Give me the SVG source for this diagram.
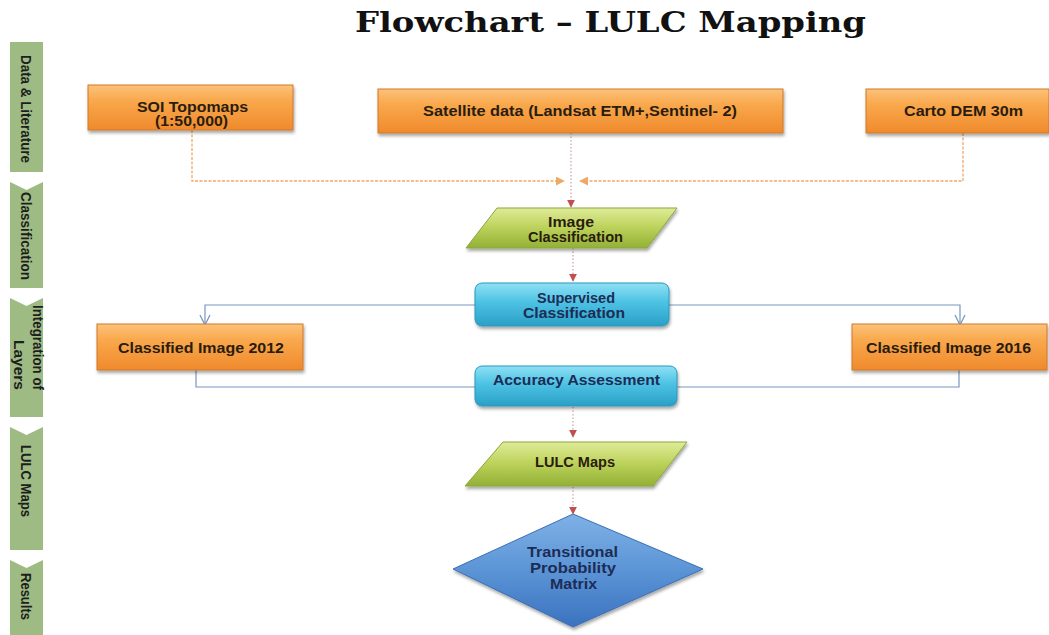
<svg xmlns="http://www.w3.org/2000/svg" width="1049" height="635" viewBox="0 0 1049 635">
  <defs>
    <linearGradient id="gOrange" x1="0" y1="0" x2="0" y2="1">
      <stop offset="0" stop-color="#fcc27a"/>
      <stop offset="0.35" stop-color="#f9a84c"/>
      <stop offset="1" stop-color="#ef8a2c"/>
    </linearGradient>
    <linearGradient id="gGreen" x1="0" y1="0" x2="0" y2="1">
      <stop offset="0" stop-color="#dfeb9a"/>
      <stop offset="0.45" stop-color="#bfd45e"/>
      <stop offset="1" stop-color="#93b035"/>
    </linearGradient>
    <linearGradient id="gCyan" x1="0" y1="0" x2="0" y2="1">
      <stop offset="0" stop-color="#8fe0f4"/>
      <stop offset="0.45" stop-color="#4cc2e4"/>
      <stop offset="1" stop-color="#2a9fc6"/>
    </linearGradient>
    <linearGradient id="gBlue" x1="0" y1="0" x2="0" y2="1">
      <stop offset="0" stop-color="#7fb1e6"/>
      <stop offset="0.5" stop-color="#5b94d6"/>
      <stop offset="1" stop-color="#3a72bf"/>
    </linearGradient>
    <filter id="shadow" x="-10%" y="-20%" width="120%" height="150%">
      <feDropShadow dx="1" dy="2.5" stdDeviation="1.8" flood-color="#000" flood-opacity="0.35"/>
    </filter>
    <marker id="mOrange" viewBox="0 0 10 10" refX="9" refY="5" markerWidth="9" markerHeight="9" markerUnits="userSpaceOnUse" orient="auto">
      <path d="M0,0 L10,5 L0,10 Z" fill="#f0a868"/>
    </marker>
    <marker id="mRed" viewBox="0 0 10 10" refX="9" refY="5" markerWidth="8" markerHeight="8" markerUnits="userSpaceOnUse" orient="auto">
      <path d="M0,0 L10,5 L0,10 Z" fill="#c0504d"/>
    </marker>
    <marker id="mOpen" viewBox="0 0 12 12" refX="11" refY="6" markerWidth="12" markerHeight="12" markerUnits="userSpaceOnUse" orient="auto">
      <path d="M1,1 L11,6 L1,11" fill="none" stroke="#7a96c0" stroke-width="1.3"/>
    </marker>
  </defs>
  <style>
    .orange { fill: url(#gOrange); stroke: #d0782a; stroke-width: 1; filter: url(#shadow); }
    .green { fill: url(#gGreen); stroke: #8aa83a; stroke-width: 1; filter: url(#shadow); }
    .cyan { fill: url(#gCyan); stroke: #2a98bd; stroke-width: 1; filter: url(#shadow); }
    .blue { fill: url(#gBlue); stroke: #3a6fb5; stroke-width: 1; filter: url(#shadow); }
    .tab { fill: #9dbb82; }
    .lbl { font-family: "Liberation Sans", Arial, sans-serif; font-weight: bold; font-size: 14px; text-anchor: middle; fill: #2a1c0e; }
    .lblBlue { fill: #1d2c55; }
    .tabTxt { font-family: "Liberation Sans", Arial, sans-serif; font-weight: bold; font-size: 15px; fill: #1e1e1e; }
    .title { font-family: "DejaVu Serif", "Liberation Serif", serif; font-weight: bold; font-size: 27px; fill: #111; }
    .dashO { fill: none; stroke: #f0a868; stroke-width: 1.3; stroke-dasharray: 3 1.5; }
    .dotR { fill: none; stroke: #c9a3aa; stroke-width: 1.2; stroke-dasharray: 1.5 2; }
    .link { fill: none; stroke: #7a96c0; stroke-width: 1.2; }
  </style>

  <rect width="1049" height="635" fill="#ffffff"/>

  <!-- title -->
  <text class="title" x="355" y="32" textLength="511" lengthAdjust="spacingAndGlyphs">Flowchart – LULC Mapping</text>

  <!-- stage tabs down the left side -->
  <g id="stages">
    <g id="stage-data">
      <path class="tab" d="M10,42 H43 V172 H10 Z"/>
      <text class="tabTxt" transform="translate(20.5,55) rotate(90)" textLength="108" lengthAdjust="spacingAndGlyphs">Data &amp; Literature</text>
    </g>
    <g id="stage-classification">
      <path class="tab" d="M10,182 L26.5,190 L43,182 V288 H10 Z"/>
      <text class="tabTxt" transform="translate(21,192) rotate(90)" textLength="88" lengthAdjust="spacingAndGlyphs">Classification</text>
    </g>
    <g id="stage-integration">
      <path class="tab" d="M10,298 L26.5,306 L43,298 V417 H10 Z"/>
      <text class="tabTxt" transform="translate(33,305) rotate(90)" textLength="85" lengthAdjust="spacingAndGlyphs">Integration of</text>
      <text class="tabTxt" transform="translate(14,340) rotate(90)" textLength="50" lengthAdjust="spacingAndGlyphs">Layers</text>
    </g>
    <g id="stage-maps">
      <path class="tab" d="M10,427 L26.5,435 L43,427 V550 H10 Z"/>
      <text class="tabTxt" transform="translate(21,445) rotate(90)" textLength="72" lengthAdjust="spacingAndGlyphs">LULC Maps</text>
    </g>
    <g id="stage-results">
      <path class="tab" d="M10,560 L26.5,568 L43,560 V640 H10 Z"/>
      <text class="tabTxt" transform="translate(21,573) rotate(90)" textLength="47" lengthAdjust="spacingAndGlyphs">Results</text>
    </g>
  </g>

  <!-- connectors -->
  <g id="connectors">
    <path class="dashO" d="M192,130 V181 H564" marker-end="url(#mOrange)"/>
    <path class="dashO" d="M963,133 V181 H580" marker-end="url(#mOrange)"/>
    <path class="dotR" d="M571,133 V207" marker-end="url(#mRed)"/>
    <path class="dotR" d="M573,248 V281" marker-end="url(#mRed)"/>
    <path class="link" d="M475,305 H205 V325" marker-end="url(#mOpen)"/>
    <path class="link" d="M669,305 H960 V325" marker-end="url(#mOpen)"/>
    <path class="link" d="M196,370 V387 H475"/>
    <path class="link" d="M959,370 V387 H677"/>
    <path class="dotR" d="M573,407 V437" marker-end="url(#mRed)"/>
    <path class="dotR" d="M573,487 V514" marker-end="url(#mRed)"/>
  </g>

  <!-- source data -->
  <g id="soi-topomaps">
    <rect class="orange" x="88" y="85" width="205" height="45"/>
    <text class="lbl" x="192.5" y="112" textLength="111" lengthAdjust="spacingAndGlyphs">SOI Topomaps</text>
    <text class="lbl" x="191.5" y="126" textLength="73" lengthAdjust="spacingAndGlyphs">(1:50,000)</text>
  </g>
  <g id="satellite-data">
    <rect class="orange" x="378" y="89" width="405" height="44"/>
    <text class="lbl" x="580" y="116" textLength="314" lengthAdjust="spacingAndGlyphs">Satellite data (Landsat ETM+,Sentinel- 2)</text>
  </g>
  <g id="carto-dem">
    <rect class="orange" x="866" y="89" width="183" height="44"/>
    <text class="lbl" x="963.5" y="116" textLength="119" lengthAdjust="spacingAndGlyphs">Carto DEM  30m</text>
  </g>

  <!-- classification -->
  <g id="image-classification">
    <path class="green" d="M497,208 H677 L647,248 H466 Z"/>
    <text class="lbl" x="571" y="227" textLength="46" lengthAdjust="spacingAndGlyphs">Image</text>
    <text class="lbl" x="575.5" y="242" textLength="95" lengthAdjust="spacingAndGlyphs">Classification</text>
  </g>
  <g id="supervised-classification">
    <rect class="cyan" x="475" y="283" width="194" height="43" rx="7"/>
    <text class="lbl lblBlue" x="576" y="303" textLength="78" lengthAdjust="spacingAndGlyphs">Supervised</text>
    <text class="lbl lblBlue" x="574" y="318" textLength="102" lengthAdjust="spacingAndGlyphs">Classification</text>
  </g>

  <!-- integration of layers -->
  <g id="classified-2012">
    <rect class="orange" x="97" y="324" width="206" height="46"/>
    <text class="lbl" x="201" y="353" textLength="166" lengthAdjust="spacingAndGlyphs">Classified Image 2012</text>
  </g>
  <g id="classified-2016">
    <rect class="orange" x="852" y="324" width="195" height="46"/>
    <text class="lbl" x="948.5" y="353" textLength="165" lengthAdjust="spacingAndGlyphs">Classified Image 2016</text>
  </g>
  <g id="accuracy-assessment">
    <rect class="cyan" x="475" y="366" width="202" height="40" rx="7"/>
    <text class="lbl lblBlue" x="576.5" y="385" textLength="167" lengthAdjust="spacingAndGlyphs">Accuracy Assessment</text>
  </g>

  <!-- outputs -->
  <g id="lulc-maps">
    <path class="green" d="M503,442 H687 L653,486 H465 Z"/>
    <text class="lbl" x="575" y="467" textLength="80" lengthAdjust="spacingAndGlyphs">LULC Maps</text>
  </g>
  <g id="transition-matrix">
    <path class="blue" d="M573,514 L703,569 L573,627 L453,569 Z"/>
    <text class="lbl lblBlue" x="572.5" y="557" textLength="91" lengthAdjust="spacingAndGlyphs">Transitional</text>
    <text class="lbl lblBlue" x="573" y="573" textLength="86" lengthAdjust="spacingAndGlyphs">Probability</text>
    <text class="lbl lblBlue" x="573.5" y="589" textLength="47" lengthAdjust="spacingAndGlyphs">Matrix</text>
  </g>
</svg>
